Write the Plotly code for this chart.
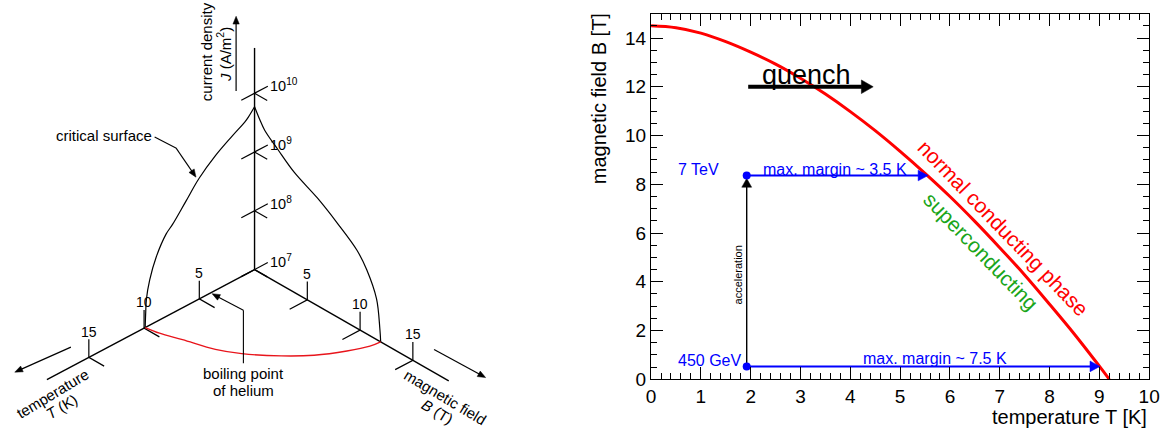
import math
import plotly.graph_objects as go

W, H = 1173, 441
FONT = "Liberation Sans, Arial, Helvetica, sans-serif"

# ================= right panel data =================
T_curve = [0, 0.5, 1, 1.5, 2, 2.5, 3, 3.5, 4, 4.5, 5, 5.5, 6, 6.5, 7, 7.5, 8, 8.5, 9, 9.2]
B_curve = [14.5, 14.42, 14.2, 13.85, 13.42, 12.93, 12.35, 11.7, 10.98, 10.2,
           9.35, 8.45, 7.5, 6.48, 5.4, 4.28, 3.08, 1.85, 0.54, 0.0]
T_operation = 1.92                 # operating temperature [K]
B_levels = [0.53, 8.36]            # 450 GeV injection, 7 TeV top field [T]
level_names = ["450 GeV", "7 TeV"]
T_margin_end = [9.01, 5.56]        # where the margin arrows hit the curve
margin_labels = ["max. margin ~ 7.5 K", "max. margin ~ 3.5 K"]
x_tickvals = list(range(0, 11))
y_tickvals = list(range(0, 15, 2))

# ================= left panel data (critical surface sketch) =================
J_tick_exp = [7, 8, 9, 10]          # log10 J
T_tick_vals = [5, 10, 15]           # K
B_tick_vals = [5, 10, 15]           # T
T_axis_end, B_axis_end, J_axis_end = 18.8, 18.4, 10.77
T_boil = 4.2
# edge in the T-J plane (B = 0)
edgeTJ_T = [0, 0.56, 0.87, 2.05, 3.54, 5.03, 6.22, 7.41, 8.01, 8.9, 9.49, 9.79, 9.85, 9.9]
edgeTJ_J = [9.77, 9.65, 9.6, 9.47, 9.29, 9.05, 8.78, 8.51, 8.4, 8.1, 7.77, 7.47, 7.26, 7.0]
# edge in the B-J plane (T = 0)
edgeBJ_B = [0, 0.5, 0.96, 2.21, 3.77, 5.95, 7.82, 9.69, 10.63, 11.56, 11.87, 11.95]
edgeBJ_J = [9.77, 9.6, 9.47, 9.27, 9.04, 8.83, 8.6, 8.33, 8.09, 7.69, 7.22, 7.0]
# edge in the T-B plane (J = 1e7), red
edgeTB_T = [9.9, 9.69, 9.14, 8.39, 7.5, 5.83, 4.23, 2.34, 0.86, 0]
edgeTB_B = [0, 1.14, 2.74, 5.07, 6.64, 8.63, 10.07, 11.2, 11.83, 11.95]

# oblique projection used for the sketch (layout constants)
O = (253.0, 276.5)
uT = (-11.2, 6.0)
uB = (10.7, 6.2)
uJ = (0.0, -60.3)


def P(t, b, j):
    return (O[0] + t * uT[0] + b * uB[0] + (j - 7) * uJ[0],
            O[1] + t * uT[1] + b * uB[1] + (j - 7) * uJ[1])


fig = go.Figure()
ann = []


def seg_trace(segs, color="black", width=1.3, shape="linear", axes=("x", "y")):
    xs, ys = [], []
    for s in segs:
        for p in s:
            xs.append(p[0]); ys.append(p[1])
        xs.append(None); ys.append(None)
    fig.add_trace(go.Scatter(x=xs, y=ys, mode="lines", line=dict(color=color, width=width, shape=shape),
                             xaxis=axes[0], yaxis=axes[1], hoverinfo="skip", showlegend=False))


# pixels per data unit for each panel (y sign: screen direction)
PIX = {("x", "y"): (1.0, 1.0), ("x2", "y2"): (50.5, -25.0)}


def arrow(tip, tail, color="black", width=1.2, L=8.0, w=3.2, axes=("x", "y")):
    sx, sy = PIX[axes]
    X1, Y1 = tip[0] * sx, tip[1] * sy
    X0, Y0 = tail[0] * sx, tail[1] * sy
    d = math.hypot(X1 - X0, Y1 - Y0)
    ux, uy = (X1 - X0) / d, (Y1 - Y0) / d
    bx, by = X1 - L * ux, Y1 - L * uy
    nx, ny = -uy, ux
    seg_trace([[tail, ((bx + 0.5 * ux) / sx, (by + 0.5 * uy) / sy)]], color=color, width=width, axes=axes)
    tri = [(X1, Y1), (bx + w * nx, by + w * ny), (bx - w * nx, by - w * ny), (X1, Y1)]
    fig.add_trace(go.Scatter(x=[p[0] / sx for p in tri], y=[p[1] / sy for p in tri], mode="lines",
                             fill="toself", fillcolor=color, line=dict(color=color, width=0.5),
                             xaxis=axes[0], yaxis=axes[1], hoverinfo="skip", showlegend=False))


def txt(x, y, s, size=15, color="black", angle=0, xanchor="center", yanchor="middle",
        xref="x", yref="y"):
    ann.append(dict(x=x, y=y, text=s, xref=xref, yref=yref, showarrow=False,
                    font=dict(family=FONT, size=size, color=color), textangle=angle,
                    xanchor=xanchor, yanchor=yanchor))


# ---- left: axes and ticks
axes_segs = [[P(0, 0, 7), P(T_axis_end, 0, 7)],
             [P(0, 0, 7), P(0, B_axis_end, 7)],
             [P(0, 0, 7), P(0, 0, J_axis_end)]]
tick_segs = []
for t in T_tick_vals:
    tick_segs.append([P(t, 0, 7.31), P(t, 0, 7), P(t, 1.45, 7)])
for b in B_tick_vals:
    tick_segs.append([P(0, b, 7.31), P(0, b, 7), P(1.6, b, 7)])
for j in J_tick_exp:
    tick_segs.append([P(1.2, 0, j), P(-1.2, 0, j)])
    tick_segs.append([P(0, 0, j), P(0, 1.2, j)])
seg_trace(axes_segs, width=1.4)
seg_trace(tick_segs, width=1.2)

# ---- left: critical surface edges
seg_trace([[P(t, 0, j) for t, j in zip(edgeTJ_T, edgeTJ_J)]], width=1.2, shape="spline")
seg_trace([[P(0, b, j) for b, j in zip(edgeBJ_B, edgeBJ_J)]], width=1.2, shape="spline")
seg_trace([[P(t, b, 7) for t, b in zip(edgeTB_T, edgeTB_B)]], color="#e8141b", width=1.4, shape="spline")

# tick labels on the sketch
for t in T_tick_vals:
    x, y = P(t, 0, 7)
    txt(x, y - 26.5, str(t), size=14)
for b in B_tick_vals:
    x, y = P(0, b, 7)
    txt(x, y - 26.5, str(b), size=14)
for j in J_tick_exp:
    x, y = P(-1.25, 0, j)
    txt(x, y - 1, "10<sup>%d</sup>" % j, size=14.5, xanchor="left")

# axis names and direction arrows
txt(48.3, 403.3, "temperature", angle=-31)
txt(57.5, 416.7, "<i>T</i> (K)", angle=-31)
txt(446.7, 407.5, "magnetic field", angle=31)
txt(438.3, 421.7, "<i>B</i> (T)", angle=31)
txt(205, 53.3, "current density", angle=-90)
txt(221.7, 55.7, "<i>J</i> (A/m<sup>2</sup>)", angle=-90)
arrow(P(19.7, -2.1, 7), P(15.0, -1.7, 7))
arrow(P(-2.0, 19.8, 7), P(-1.89, 15.03, 7))
arrow((234.3, 16.7), (234.3, 93.3))

# critical surface label with leader
txt(100, 139.3, "critical surface")
seg_trace([[(151.7, 140.5), (173.3, 151.7)]], width=1.1)
arrow(P(5.3, 0, 9.1), (173.3, 151.7), width=1.1)

# boiling point label with leader
txt(241.7, 383.3, "boiling point")
txt(241.7, 400.0, "of helium")
seg_trace([[(241.7, 372.5), (241.7, 318.3)]], width=1.1)
bx, by = P(T_boil, 0, 7)
arrow((bx + 4, by - 0.5), (241.7, 318.3), width=1.1)

# ================= right panel =================
R = ("x2", "y2")
fig.add_trace(go.Scatter(x=T_curve, y=B_curve, mode="lines", line=dict(color="#ff0000", width=3, shape="spline"),
                         xaxis="x2", yaxis="y2", hoverinfo="skip", showlegend=False))

# margin arrows
for bl, te in zip(B_levels, T_margin_end):
    arrow((te, bl), (T_operation, bl), color="#0000ff", width=2, L=10, w=5.5, axes=R)
# acceleration arrow
arrow((T_operation, B_levels[1] - 0.12), (T_operation, B_levels[0]), color="black", width=1.4,
      L=9, w=5, axes=R)
# quench arrow
arrow((4.46, 12.0), (1.95, 12.0), color="black", width=4, L=12, w=7, axes=R)

fig.add_trace(go.Scatter(x=[T_operation] * len(B_levels), y=B_levels, mode="markers",
                         marker=dict(color="#0000ff", size=8, symbol="circle"),
                         xaxis="x2", yaxis="y2", hoverinfo="skip", showlegend=False))

txt(3.12, 12.47, "quench", size=27, xref="x2", yref="y2")
txt(0.51, 8.6, level_names[1], size=16, color="#0000ff", xanchor="left", xref="x2", yref="y2")
txt(0.51, 0.77, level_names[0], size=16, color="#0000ff", xanchor="left", xref="x2", yref="y2")
txt(3.69, 8.62, margin_labels[1], size=16, color="#0000ff", xref="x2", yref="y2")
txt(5.70, 0.85, margin_labels[0], size=16, color="#0000ff", xref="x2", yref="y2")
txt(1.74, 4.29, "acceleration", size=11, angle=-90, xref="x2", yref="y2")
txt(7.08, 6.2, "normal conducting phase", size=21, color="#ff0000", angle=46, xref="x2", yref="y2")
txt(6.63, 5.25, "superconducting", size=21, color="#1aa51a", angle=46, xref="x2", yref="y2")

# axis titles (ROOT style: aligned to the end of the axis)
txt(1160 / W, (H - 428) / H, "temperature T [K]", size=20, xanchor="right", xref="paper", yref="paper")
txt(603 / W, (H - 101) / H, "magnetic field B [T]", size=20, angle=-90, xref="paper", yref="paper")

axis_common = dict(showgrid=False, zeroline=False, showline=True, linecolor="black", linewidth=1.2,
                   mirror="ticks", ticks="inside", ticklen=12, tickwidth=1.2, tickcolor="black",
                   tickfont=dict(family=FONT, size=19, color="black"), fixedrange=True)

fig.update_layout(
    width=W, height=H, margin=dict(l=0, r=0, t=0, b=0),
    paper_bgcolor="white", plot_bgcolor="white",
    font=dict(family=FONT),
    xaxis=dict(domain=[0, 520 / W], range=[0, 520], visible=False, anchor="y", fixedrange=True),
    yaxis=dict(domain=[0, 1], range=[H, 0], visible=False, anchor="x", fixedrange=True),
    xaxis2=dict(domain=[655 / W, 1160 / W], range=[0, 10], anchor="y2", tickvals=x_tickvals,
                minor=dict(dtick=0.2, ticklen=6, ticks="inside", tickcolor="black", tickwidth=1.2),
                **axis_common),
    yaxis2=dict(domain=[(H - 389) / H, (H - 14) / H], range=[0, 15], anchor="x2", tickvals=y_tickvals,
                minor=dict(dtick=0.5, ticklen=6, ticks="inside", tickcolor="black", tickwidth=1.2),
                **axis_common),
    annotations=ann,
)

fig.write_html("out.html")
